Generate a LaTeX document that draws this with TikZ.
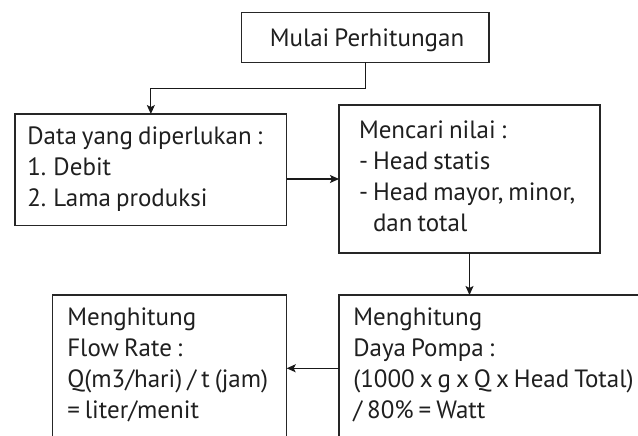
\documentclass[tikz,border=0pt]{standalone}
\usepackage{fontspec}
\setmainfont{PT Sans}[WordSpace=0.75]
\usetikzlibrary{arrows.meta}
\begin{document}
\begin{tikzpicture}[x=1pt,y=-1pt,
  frame/.style={draw=black!85, line width=1.1pt, inner sep=0pt, outer sep=0pt, anchor=north west},
  txt/.style={inner sep=0pt, outer sep=0pt, align=left, text=black!88,
    font=\fontsize{25}{31}\selectfont},
  arr/.style={draw=black!90, line width=1.1pt, -{Stealth[length=9pt,width=8pt,inset=2pt]}}]
\useasboundingbox (0,0) rectangle (638,436);
\clip (0,0) rectangle (638,436);
% boxes
\node[frame, minimum width=247.3pt, minimum height=50pt] (start) at (241.7,12.3) {};
\node[frame, minimum width=271.7pt, minimum height=111.7pt] (data) at (15,114) {};
\node[frame, minimum width=261pt, minimum height=148pt] (cari) at (339,105) {};
\node[frame, minimum width=234.4pt, minimum height=200pt] (flow) at (52.3,295) {};
\node[frame, minimum width=350pt, minimum height=200pt] (daya) at (339,295) {};
% texts (anchored at the baseline of their last line)
\node[txt, anchor=base] (tstart) at (367,47) {Mulai Perhitungan};
\node[txt, anchor=base west] (tdata) at (27.3,206.5) {Data yang diperlukan :\\1. Debit\\2. Lama produksi};
\node[txt, anchor=base west] (tcari) at (359,231.3) {Mencari nilai :\\- Head statis\\- Head mayor, minor,\\\phantom{- }dan total};
\node[txt, anchor=base west] (tflow) at (67.3,418) {Menghitung\\Flow Rate :\\Q(m3/hari) / t (jam)\\= liter/menit};
\node[txt, anchor=base west] (tdaya) at (353.3,418) {Menghitung\\Daya Pompa :\\(1000 x g x Q x Head Total)\\/ 80\% = Watt};
% connectors
\draw[arr] (start.south) -- ++(0,26) -| (data.north);
\draw[arr] (data.east |- cari.west) -- (cari.west);
\draw[arr] (cari.south) -- (cari.south |- daya.north);
\draw[arr] ([yshift=-73.3pt]daya.north west) -- ([yshift=-73.3pt]flow.north east);
\end{tikzpicture}
\end{document}
